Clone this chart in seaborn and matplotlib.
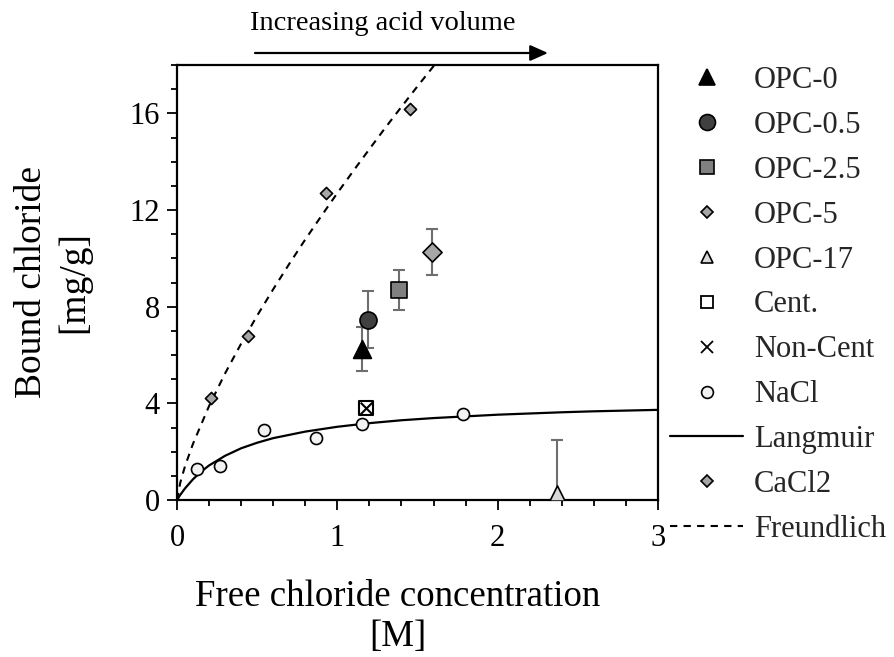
import numpy as np
import pandas as pd
import matplotlib
matplotlib.use("Agg")
import matplotlib.pyplot as plt
import seaborn as sns
from matplotlib.lines import Line2D
from matplotlib.ticker import MultipleLocator

# ---------------- data ----------------
nacl_x = [0.123, 0.268, 0.545, 0.867, 1.154, 1.786]
nacl_y = [1.27, 1.42, 2.89, 2.58, 3.15, 3.57]

cacl2_x = [0.21, 0.445, 0.93, 1.454]
cacl2_y = [4.23, 6.78, 12.72, 16.18]

opc_labels = ["OPC-0", "OPC-0.5", "OPC-2.5", "OPC-5", "OPC-17"]
opc_x = [1.156, 1.19, 1.383, 1.591, 2.372]
opc_y = [6.25, 7.45, 8.70, 10.27, 0.28]
opc_err = [0.92, 1.18, 0.83, 0.95, 2.20]

cent_x = [1.18]
cent_y = [3.80]
noncent_x = [1.18]
noncent_y = [3.80]

langmuir_x = [0, 0.02, 0.05, 0.1, 0.15, 0.2, 0.3, 0.4, 0.5, 0.6, 0.8, 1.0,
              1.2, 1.4, 1.6, 1.8, 2.0, 2.2, 2.4, 2.6, 2.8, 3.0]
langmuir_y = [0, 0.21, 0.48, 0.86, 1.17, 1.43, 1.83, 2.14, 2.37, 2.56, 2.83, 3.03,
              3.18, 3.30, 3.39, 3.46, 3.53, 3.58, 3.63, 3.67, 3.70, 3.73]

freund_x = [0, 0.02, 0.05, 0.1, 0.2, 0.3, 0.4, 0.5, 0.6, 0.7, 0.8, 0.9, 1.0,
            1.1, 1.2, 1.3, 1.4, 1.5, 1.6, 1.7]
freund_y = [0, 0.71, 1.40, 2.33, 3.89, 5.24, 6.47, 7.63, 8.72, 9.77, 10.78, 11.75,
            12.70, 13.62, 14.52, 15.41, 16.27, 17.12, 17.95, 18.77]

x_ticks = [0, 1, 2, 3]
y_ticks = [0, 4, 8, 12, 16]

# ---------------- styling ----------------
sns.set_theme(style="ticks")
plt.rcParams["font.family"] = ["Liberation Serif", "DejaVu Serif"]
plt.rcParams["axes.linewidth"] = 1.6

W, H = 894, 657
fig = plt.figure(figsize=(W / 100, H / 100), dpi=100)
ax = fig.add_axes([177 / W, 1 - 500 / H, (658 - 177) / W, (500 - 65) / H])

# fitted curves
sns.lineplot(x=langmuir_x, y=langmuir_y, ax=ax, color="black", linewidth=1.6,
             sort=False, estimator=None, zorder=2)
sns.lineplot(x=freund_x, y=freund_y, ax=ax, color="black", linewidth=1.5,
             sort=False, estimator=None, linestyle=(0, (3.5, 3)), zorder=2)

# error bars
ax.errorbar(opc_x, opc_y, yerr=opc_err, fmt="none", ecolor="#6e6e6e",
            elinewidth=1.5, capsize=4.3, capthick=1.5, zorder=3)

opc_markers = ["^", "o", "s", "D", "^"]
opc_colors = ["#000000", "#404040", "#808080", "#a6a6a6", "#d9d9d9"]
opc_sizes = [165, 150, 135, 95, 120]
for xi, yi, m, c, s in zip(opc_x, opc_y, opc_markers, opc_colors, opc_sizes):
    sns.scatterplot(x=[xi], y=[yi], ax=ax, marker=m, s=s, color=c,
                    edgecolor="black", linewidth=1.2, zorder=4, legend=False)

sns.scatterplot(x=cent_x, y=cent_y, ax=ax, marker="s", s=95, color="white",
                edgecolor="black", linewidth=1.5, zorder=4, legend=False)
sns.scatterplot(x=noncent_x, y=noncent_y, ax=ax, marker="x", s=70, color="black",
                linewidth=1.5, zorder=5, legend=False)

sns.scatterplot(x=nacl_x, y=nacl_y, ax=ax, marker="o", s=75, color="#f2f2f2",
                edgecolor="black", linewidth=1.2, zorder=4, legend=False)
sns.scatterplot(x=cacl2_x, y=cacl2_y, ax=ax, marker="D", s=38, color="#a6a6a6",
                edgecolor="black", linewidth=1.2, zorder=4, legend=False)

# axes
ax.set_xlim(0, 3)
ax.set_ylim(0, 18)
ax.set_xticks(x_ticks)
ax.set_yticks(y_ticks)
ax.xaxis.set_minor_locator(MultipleLocator(0.2))
ax.yaxis.set_minor_locator(MultipleLocator(1))
ax.tick_params(which="major", direction="out", length=7.5, width=1.3,
               labelsize=22, color="black", labelcolor="black")
ax.tick_params(axis="x", which="major", pad=10)
ax.tick_params(axis="y", which="major", pad=5)
ax.tick_params(which="minor", direction="out", length=4.5, width=1.3, color="black")
for sp in ax.spines.values():
    sp.set_visible(True)
    sp.set_color("black")
    sp.set_linewidth(1.6)

ax.set_xlabel("Free chloride concentration\n[M]", fontsize=26.6, linespacing=1.2,
              labelpad=19, color="black")
ax.xaxis.label.set_x((398 - 177) / (658 - 177))
ax.set_ylabel("Bound chloride\n[mg/g]", fontsize=27, linespacing=1.3,
              labelpad=27, color="black")

# legend
handles = [
    Line2D([], [], ls="none", marker="^", ms=12, mfc="#000000", mec="black", mew=1.2),
    Line2D([], [], ls="none", marker="o", ms=11.5, mfc="#404040", mec="black", mew=1.2),
    Line2D([], [], ls="none", marker="s", ms=10.5, mfc="#808080", mec="black", mew=1.2),
    Line2D([], [], ls="none", marker="D", ms=6.3, mfc="#a6a6a6", mec="black", mew=1.2),
    Line2D([], [], ls="none", marker="^", ms=9, mfc="#d9d9d9", mec="black", mew=1.2),
    Line2D([], [], ls="none", marker="s", ms=9, mfc="white", mec="black", mew=1.3),
    Line2D([], [], ls="none", marker="x", ms=8, color="black", mew=1.3),
    Line2D([], [], ls="none", marker="o", ms=8.5, mfc="#f2f2f2", mec="black", mew=1.2),
    Line2D([], [], ls="-", color="black", lw=1.6),
    Line2D([], [], ls="none", marker="D", ms=5.8, mfc="#a6a6a6", mec="black", mew=1.2),
    Line2D([], [], ls=(0, (3.5, 3)), color="black", lw=1.5),
]
labels = opc_labels + ["Cent.", "Non-Cent", "NaCl", "Langmuir", "CaCl2", "Freundlich"]
fig.legend(handles, labels, loc="upper left",
           bbox_to_anchor=(670 / W, 1 - 66 / H), bbox_transform=fig.transFigure,
           frameon=False, fontsize=22, handlelength=2.4, handletextpad=0.35,
           labelspacing=0.52, borderpad=0, borderaxespad=0, markerscale=1)

# annotation arrow
fig.text(383 / W, 1 - 30 / H, "Increasing acid volume", ha="center", va="baseline",
         fontsize=20.5, color="black")
ax.annotate("", xy=(548 / W, 1 - 53 / H), xytext=(255 / W, 1 - 53 / H),
            xycoords="figure fraction", textcoords="figure fraction",
            arrowprops=dict(arrowstyle="-|>,head_length=0.9,head_width=0.4",
                            color="black", lw=1.6, shrinkA=0, shrinkB=0),
            annotation_clip=False)

fig.savefig("out.png", dpi=100)
